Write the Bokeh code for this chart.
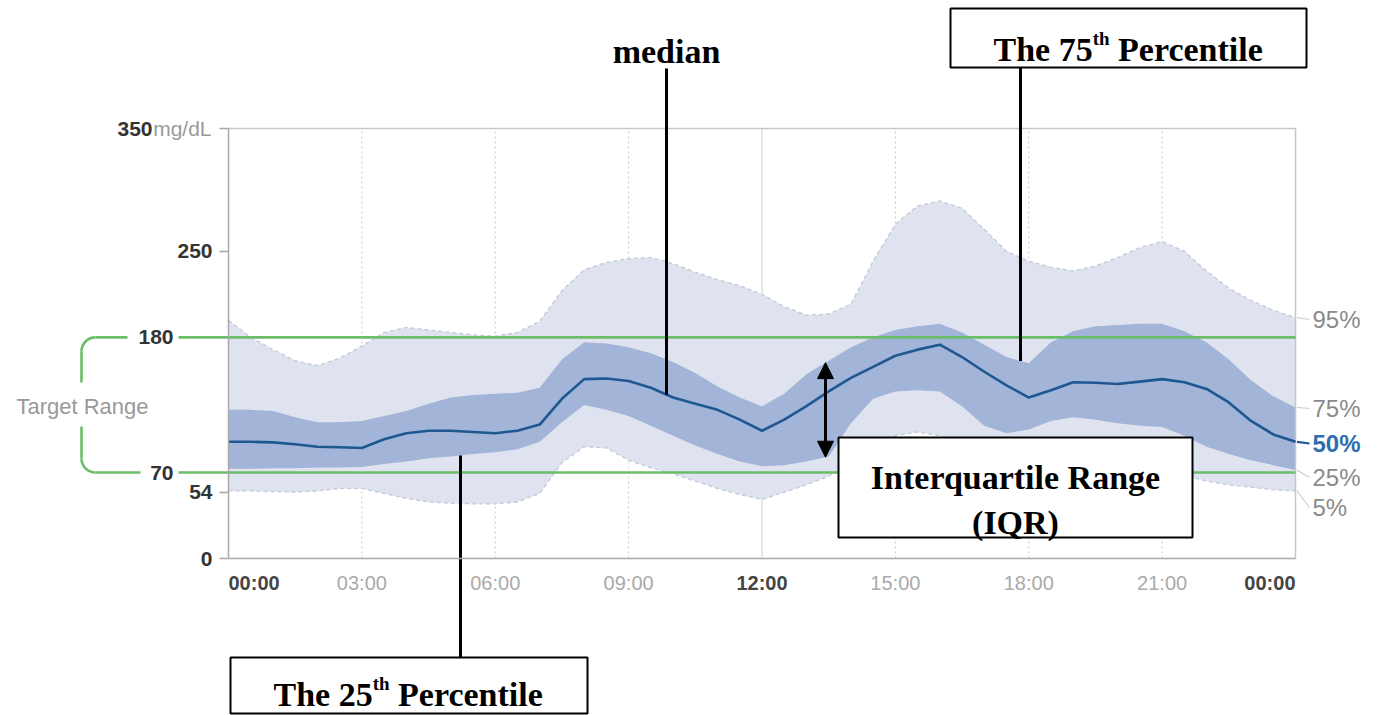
import numpy as np
from bokeh.plotting import figure
from bokeh.models import Range1d, LinearAxis, FixedTicker, Arrow, NormalHead
from bokeh.core.properties import value
from bokeh.embed import file_html
from bokeh.resources import INLINE

# ---- data: glucose percentiles over a 24 h day, every half hour (mg/dL) ----
hours = [i * 0.5 for i in range(49)]

p95 = [194, 180, 170, 161, 157, 163, 173, 184, 188, 186, 184, 182, 181, 184, 193, 218,
       235, 241, 244, 245, 240, 233, 227, 222, 215, 205, 198, 199, 207, 242, 272, 287,
       291, 285, 268, 250, 242, 237, 234, 238, 245, 253, 258, 250, 234, 220, 210, 202, 196]
p75 = [121, 121, 120, 115, 111, 111, 112, 116, 120, 126, 131, 133, 134, 135, 139, 162,
       176, 175, 172, 167, 160, 151, 140, 131, 124, 134, 150, 161, 172, 180, 186, 189,
       191, 184, 174, 164, 159, 176, 185, 189, 190, 191, 191, 185, 176, 162, 145, 132, 123]
p50 = [95, 95, 94.5, 93, 91, 90.5, 90, 97, 102, 104, 104, 103, 102, 104, 109, 130,
       146, 146.5, 144.5, 139, 131, 126, 121, 113, 104, 113, 124, 136, 147, 156, 165, 170,
       174, 164, 152, 141, 131, 137, 143.5, 143, 142, 144, 146, 143.5, 138, 127, 112, 101, 95]
p25 = [73, 73, 73.5, 73.5, 74, 74, 74.5, 77, 79, 81.5, 83, 85, 86.5, 89, 95, 111,
       125, 121, 116, 108, 100, 92, 85, 79, 75, 76, 79, 83, 110, 130, 136, 137,
       136, 124, 108, 102, 105, 112, 115, 113, 110, 108, 107, 100, 91, 85, 80, 76, 72]
p5 = [55, 55, 54.5, 54, 55, 57, 57, 53, 49, 46, 45, 44.5, 44.5, 46, 53, 78,
      91, 90, 80, 74, 69, 63, 57, 52, 48, 54, 60, 67, 78, 92, 100, 103,
      100, 90, 78, 72, 72, 78, 82, 80, 78, 76, 74, 68, 63, 60, 58, 56, 55]

target_low, target_high = 70, 180
y_ticks = [0, 54, 250, 350]
y_unit = "mg/dL"
x_tick_hours = [0, 3, 6, 9, 12, 15, 18, 21, 24]
x_tick_labels = ["00:00", "03:00", "06:00", "09:00", "12:00", "15:00", "18:00", "21:00", "00:00"]
pct_labels = ["95%", "75%", "50%", "25%", "5%"]
pct_series = [p95, p75, p50, p25, p5]

# ---- page layout (pixels) ----
W, H = 1380, 715
FRAME_L, FRAME_R, FRAME_T, FRAME_B = 228, 1295, 128, 558
X_SPAN, Y_SPAN = 24, 350
sx = (FRAME_R - FRAME_L) / X_SPAN
sy = (FRAME_B - FRAME_T) / Y_SPAN


def hx(px):
    return (px - FRAME_L) / sx


def vy(py):
    return (FRAME_B - py) / sy


OUTER = "#dfe3ef"
INNER = "#a2b4d7"
EDGE = "#c3c9da"
MEDIAN = "#1d5891"
GREEN = "#6cbd69"
AXIS = "#a9a9a9"
GRID = "#c9c9c9"
DARK = "#333333"
SANS = "Liberation Sans"
SERIF = "Liberation Serif"

p = figure(width=W, height=H, x_range=Range1d(hx(0), hx(W)), y_range=Range1d(vy(H), vy(0)),
           x_axis_type=None, y_axis_type=None, toolbar_location=None,
           output_backend="svg", min_border=0, title_location=None)
p.outline_line_color = None
p.background_fill_color = "white"
p.border_fill_color = "white"


def txt(xp, yp, s, size, color=DARK, style="normal", align="left",
        baseline="middle", font=SANS):
    p.text(x=[hx(xp)], y=[vy(yp)], text=[s], text_font=value(font),
           text_font_size=value(f"{size}px"), text_color=color,
           text_font_style=style, text_align=align, text_baseline=baseline)


# vertical guides every 3 hours (solid at noon)
dotted = [h for h in x_tick_hours if h % 12 != 0]
p.segment(x0=dotted, y0=0, x1=dotted, y1=Y_SPAN, line_color=GRID, line_dash="2 3", line_width=1)
p.segment(x0=[12], y0=0, x1=[12], y1=Y_SPAN, line_color="#d6d6d6", line_width=1.2)

# percentile bands
p.varea(x=hours, y1=p5, y2=p95, fill_color=OUTER)
p.varea(x=hours, y1=p25, y2=p75, fill_color=INNER)
p.line(hours, p95, line_color=EDGE, line_dash="4 3", line_width=1.3, line_join="round")
p.line(hours, p5, line_color=EDGE, line_dash="4 3", line_width=1.3, line_join="round")

# frame top and right edges
p.line([0, X_SPAN, X_SPAN], [Y_SPAN, Y_SPAN, 0], line_color="#c6c6c6", line_width=1.5)

# target range lines and bracket
p.segment(x0=hx(178), y0=[target_high, target_low], x1=X_SPAN, y1=[target_high, target_low],
          line_color=GREEN, line_width=2.6)
r = 14
p.segment(x0=[hx(81 + r), hx(81 + r)], y0=[target_high, target_low],
          x1=[hx(127), hx(140)], y1=[target_high, target_low], line_color=GREEN, line_width=2.6)
p.segment(x0=[hx(81), hx(81)], y0=[target_high - r / sy, vy(426)],
          x1=[hx(81), hx(81)], y1=[vy(382), target_low + r / sy], line_color=GREEN, line_width=2.6)
p.arc(x=[hx(81 + r), hx(81 + r)], y=[target_high - r / sy, target_low + r / sy],
      radius=r, radius_units="screen", start_angle=[np.pi / 2, np.pi],
      end_angle=[np.pi, 1.5 * np.pi], line_color=GREEN, line_width=2.6)
txt(173, FRAME_B - target_high * sy, str(target_high), 21, style="bold", align="right")
txt(173, FRAME_B - target_low * sy, str(target_low), 21, style="bold", align="right")
txt(82, 406, "Target Range", 22, color="#999999", align="center")

# median line
p.line(hours, p50, line_color=MEDIAN, line_width=2.6, line_join="round")

# axes
yax = LinearAxis(fixed_location=0, bounds=(0, Y_SPAN),
                 ticker=FixedTicker(ticks=y_ticks, minor_ticks=[]),
                 major_label_overrides={Y_SPAN: ""},
                 axis_line_color=AXIS, axis_line_width=1.5,
                 major_tick_line_color=AXIS, major_tick_line_width=1.5,
                 major_tick_out=9, major_tick_in=0, minor_tick_out=0, minor_tick_in=0,
                 major_label_standoff=7, major_label_text_font=SANS,
                 major_label_text_font_size="21px", major_label_text_font_style="bold",
                 major_label_text_color=DARK)
p.add_layout(yax, "left")

gray_ticks = [h for h in x_tick_hours if h % 12 != 0]
xax = LinearAxis(fixed_location=0, bounds=(0, X_SPAN),
                 ticker=FixedTicker(ticks=gray_ticks, minor_ticks=[]),
                 major_label_overrides={h: lab for h, lab in zip(x_tick_hours, x_tick_labels)
                                        if h % 12 != 0},
                 axis_line_color=AXIS, axis_line_width=1.5,
                 major_tick_out=0, major_tick_in=0, minor_tick_out=0, minor_tick_in=0,
                 major_label_standoff=13, major_label_text_font=SANS,
                 major_label_text_font_size="20px", major_label_text_color="#aaaaaa")
p.add_layout(xax, "below")

# bold hour labels at midnight and noon
for h, lab in zip(x_tick_hours, x_tick_labels):
    if h % 12 == 0:
        align = "left" if h == 0 else ("right" if h == X_SPAN else "center")
        p.text(x=[h], y=[vy(FRAME_B + 13)], text=[lab], text_font=value(SANS),
               text_font_size=value("20px"), text_color="#444444", text_font_style="bold",
               text_align=align, text_baseline="top")

# top value with unit
txt(211, FRAME_T, y_unit, 21, color="#9a9a9a", align="right")
txt(152, FRAME_T, str(y_ticks[-1]), 21, style="bold", align="right")

# percentile labels on the right with leaders
label_py = [319, 408, 443, 477, 507]
for lab, series, py in zip(pct_labels, pct_series, label_py):
    is_mid = lab == "50%"
    col = "#2f6fae" if is_mid else "#8a8a8a"
    p.segment(x0=[X_SPAN + 1.5 / sx], y0=[series[-1]], x1=[hx(1309)], y1=[vy(py)],
              line_color=(MEDIAN if is_mid else "#cfcfcf"), line_width=(2.2 if is_mid else 1.2))
    txt(1312, py, lab, 24, color=col, style=("bold" if is_mid else "normal"))

# ---- callouts ----
BIG, SUP = 34, 19
TIMES_BOLD = {"T": .667, "h": .556, "e": .444, " ": .25, "2": .5, "5": .5, "7": .5,
              "P": .611, "r": .444, "c": .444, "n": .556, "t": .333, "i": .278, "l": .278}


def text_w(s, size):
    return sum(TIMES_BOLD[c] for c in s) * size


def box(l, t, rgt, b):
    p.quad(left=[hx(l)], right=[hx(rgt)], top=[vy(t)], bottom=[vy(b)],
           fill_color="white", line_color="black", line_width=2)


def ordinal_title(cx, base_py, number):
    head, sup, tail = f"The {number}", "th", "Percentile"
    w_head, w_sup, w_gap = text_w(head, BIG), text_w(sup, SUP), text_w(" ", BIG)
    x0 = cx - (w_head + w_sup + w_gap + text_w(tail, BIG)) / 2
    txt(x0, base_py, head, BIG, color="black", style="bold", baseline="alphabetic", font=SERIF)
    txt(x0 + w_head, base_py - 11, sup, SUP, color="black", style="bold",
        baseline="alphabetic", font=SERIF)
    txt(x0 + w_head + w_sup + w_gap, base_py, tail, BIG, color="black", style="bold",
        baseline="alphabetic", font=SERIF)


def leader(px, py_from, py_to):
    p.segment(x0=[hx(px)], y0=[py_from], x1=[hx(px)], y1=[py_to], line_color="black", line_width=3)


# median
h_med = hx(666)
leader(666, vy(68), float(np.interp(h_med, hours, p50)))
txt(666, 51, "median", BIG, color="black", style="bold", align="center",
    baseline="alphabetic", font=SERIF)

# 75th percentile
h75 = hx(1020)
leader(1020, vy(67), float(np.interp(h75, hours, p75)))
box(950, 8, 1306, 67)
ordinal_title(1128, 49, 75)

# 25th percentile
h25 = hx(460)
leader(460, float(np.interp(h25, hours, p25)), vy(657))
box(230, 657, 587, 713)
ordinal_title(408, 694, 25)

# interquartile range arrow and box
h_iqr = hx(825)
arrow = Arrow(x_start=h_iqr, y_start=float(np.interp(h_iqr, hours, p25)),
              x_end=h_iqr, y_end=float(np.interp(h_iqr, hours, p75)),
              start=NormalHead(size=16, fill_color="black", line_color="black"),
              end=NormalHead(size=16, fill_color="black", line_color="black"),
              line_color="black", line_width=3)
p.add_layout(arrow)
box(838, 437, 1192, 537)
txt(1015, 477, "Interquartile Range", BIG, color="black", style="bold", align="center",
    baseline="alphabetic", font=SERIF)
txt(1015, 522, "(IQR)", BIG, color="black", style="bold", align="center",
    baseline="alphabetic", font=SERIF)

open("out.html", "w").write(file_html(p, INLINE))
